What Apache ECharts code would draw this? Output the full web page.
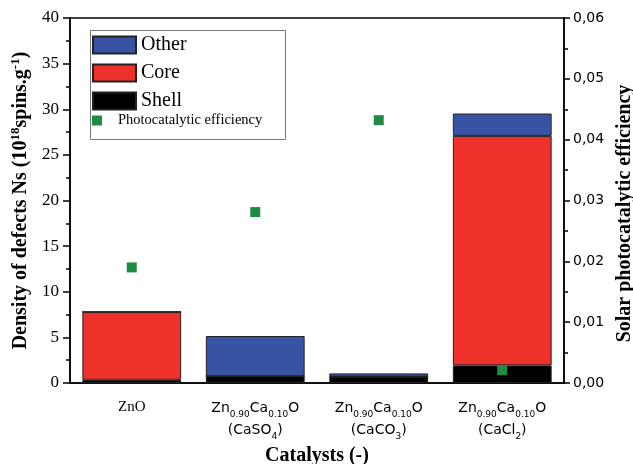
<!DOCTYPE html>
<html><head><meta charset="utf-8">
<script src="https://cdn.jsdelivr.net/npm/echarts@6/dist/echarts.min.js"></script>
<style>html,body{margin:0;padding:0;background:#fff}#c{width:633px;height:464px}</style>
</head><body><div id="c"></div>
<script>
const categories = ['ZnO', 'CaSO4', 'CaCO3', 'CaCl2'];
const categoryLabels = [
  '{serif|ZnO}',
  '{n|Zn}{s|0.90}{n|Ca}{s|0.10}{n|O}\n{n|(CaSO}{s|4}{n|)}',
  '{n|Zn}{s|0.90}{n|Ca}{s|0.10}{n|O}\n{n|(CaCO}{s|3}{n|)}',
  '{n|Zn}{s|0.90}{n|Ca}{s|0.10}{n|O}\n{n|(CaCl}{s|2}{n|)}'
];
const shell = [0.35, 0.75, 0.7, 1.93];
const core = [7.45, 0, 0, 25.15];
const other = [0, 4.4, 0.35, 2.45];
const efficiency = [0.0190, 0.0281, 0.0432, 0.0021];
const leftTicks = {min: 0, max: 40, interval: 5};
const rightTicks = {min: 0, max: 0.06, interval: 0.01};

const chart = echarts.init(document.getElementById('c'), null, {renderer: 'canvas'});
const serif = 'Liberation Serif';
const barBorder = {borderColor: '#222', borderWidth: 1};
chart.setOption({
  animation: false,
  backgroundColor: '#fff',
  grid: {left: 70, right: 69, top: 18, bottom: 81, outerBoundsMode: 'none', containLabel: false,
    show: true, borderColor: '#000', borderWidth: 1.5, backgroundColor: 'transparent'},
  graphic: [{type: 'rect', left: 88, top: 28, shape: {width: 195, height: 109}, style: {fill: 'none', stroke: '#777', lineWidth: 1}, z: 10}],
  legend: [{
    orient: 'vertical', left: 92, top: 35, padding: 0, itemWidth: 43, itemHeight: 17, itemGap: 8,
    data: [{name: 'Other', icon: 'rect'}, {name: 'Core', icon: 'rect'}, {name: 'Shell', icon: 'rect'}],
    textStyle: {fontFamily: serif, fontSize: 20, color: '#000'}
  }, {
    orient: 'vertical', left: 92, top: 113, padding: 0, itemWidth: 10, itemHeight: 10,
    data: [{name: 'Photocatalytic efficiency', icon: 'rect'}],
    textStyle: {fontFamily: serif, fontSize: 14.5, color: '#000', padding: [0, 0, 0, 11]}
  }],
  xAxis: {
    type: 'category', data: categories,
    name: 'Catalysts (-)', nameLocation: 'middle', nameGap: 63,
    nameTextStyle: {fontFamily: serif, fontWeight: 'bold', fontSize: 20, color: '#000'},
    axisLine: {lineStyle: {color: '#000', width: 1.5}},
    axisTick: {alignWithLabel: true, length: 7, lineStyle: {color: '#000', width: 1.5}},
    axisLabel: {
      margin: 14, color: '#000', interval: 0,
      formatter: (v, i) => categoryLabels[i],
      rich: {
        serif: {fontFamily: serif, fontSize: 15, lineHeight: 20, color: '#000'},
        n: {fontFamily: 'DejaVu Sans', fontSize: 14, lineHeight: 22, color: '#000'},
        s: {fontFamily: 'DejaVu Sans', fontSize: 9, lineHeight: 8, verticalAlign: 'bottom', color: '#000'}
      }
    }
  },
  yAxis: [{
    type: 'value', min: leftTicks.min, max: leftTicks.max, interval: leftTicks.interval,
    name: '{b|Density of defects Ns (10}{sup|18}{b|spins.g}{sup|-1}{b|)}',
    nameLocation: 'middle', nameGap: 34,
    nameTextStyle: {
      rich: {
        b: {fontFamily: serif, fontWeight: 'bold', fontSize: 20, lineHeight: 24, color: '#000'},
        sup: {fontFamily: serif, fontWeight: 'bold', fontSize: 13, lineHeight: 13, verticalAlign: 'top', color: '#000'}
      }
    },
    axisLine: {show: true, lineStyle: {color: '#000', width: 1.5}},
    axisTick: {show: true, length: 7, lineStyle: {color: '#000', width: 1.5}},
    minorTick: {show: true, splitNumber: 2, length: 4, lineStyle: {color: '#000', width: 1.5}},
    axisLabel: {fontFamily: serif, fontSize: 17, color: '#000', margin: 11},
    splitLine: {show: false}
  }, {
    type: 'value', position: 'right', min: rightTicks.min, max: rightTicks.max, interval: rightTicks.interval,
    name: 'Solar photocatalytic efficiency', nameLocation: 'middle', nameGap: 50,
    nameTextStyle: {fontFamily: serif, fontWeight: 'bold', fontSize: 20, color: '#000', padding: [0, 26, 0, 0]},
    axisLine: {show: true, lineStyle: {color: '#000', width: 1.5}},
    axisTick: {show: true, length: 6, lineStyle: {color: '#000', width: 1.5}},
    minorTick: {show: true, splitNumber: 2, length: 4, lineStyle: {color: '#000', width: 1.5}},
    axisLabel: {fontFamily: 'DejaVu Sans', fontSize: 14, color: '#000', margin: 9,
      formatter: v => v.toFixed(2).replace('.', ',')},
    splitLine: {show: false}
  }],
  series: [
    {name: 'Shell', type: 'bar', stack: 'n', data: shell, barCategoryGap: '20%', itemStyle: Object.assign({color: '#000000'}, barBorder)},
    {name: 'Core', type: 'bar', stack: 'n', data: core, itemStyle: Object.assign({color: '#ee322b'}, barBorder)},
    {name: 'Other', type: 'bar', stack: 'n', data: other, itemStyle: Object.assign({color: '#3953a4'}, barBorder)},
    {name: 'Photocatalytic efficiency', type: 'scatter', yAxisIndex: 1, data: efficiency,
      symbol: 'rect', symbolSize: 10, z: 5, itemStyle: {color: '#1e8c45', opacity: 1}}
  ]
});
</script></body></html>
